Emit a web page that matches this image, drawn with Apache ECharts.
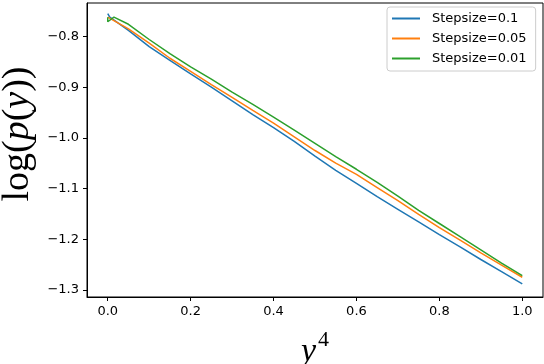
<!DOCTYPE html>
<html>
<head>
<meta charset="utf-8">
<script src="https://cdn.jsdelivr.net/npm/echarts@6/dist/echarts.min.js"></script>
<style>
  html, body { margin: 0; padding: 0; background: #fff; }
  #chart { width: 544px; height: 364px; }
</style>
</head>
<body>
<div id="chart"></div>
<script>
// y^4 positions and log(p(y)) values
const xs = [0, 0.05, 0.1, 0.15, 0.2, 0.25, 0.3, 0.35, 0.4, 0.45, 0.5,
  0.55, 0.6, 0.65, 0.7, 0.75, 0.8, 0.85, 0.9, 0.95, 1.0]
const step01 = [-0.788, -0.820, -0.847, -0.874, -0.900, -0.927, -0.954, -0.980, -1.007,
  -1.036, -1.064, -1.090, -1.116, -1.141, -1.166, -1.191, -1.215, -1.240, -1.264, -1.288]
const step005 = [-0.785, -0.813, -0.843, -0.869, -0.895, -0.920, -0.946, -0.971, -0.998,
  -1.025, -1.050, -1.072, -1.098, -1.124, -1.151, -1.177, -1.202, -1.227, -1.251, -1.275]
const step001 = [-0.776, -0.806, -0.834, -0.860, -0.884, -0.910, -0.934, -0.959, -0.985,
  -1.011, -1.037, -1.062, -1.088, -1.115, -1.143, -1.169, -1.195, -1.221, -1.247, -1.272]
// the first few points near y^4 = 0
const start01 = [[0, -0.755], [0.005, -0.762]]
const start005 = [[0, -0.762]]
const start001 = [[0, -0.762], [0, -0.771], [0.015, -0.762]]
const names = ["Stepsize=0.1", "Stepsize=0.05", "Stepsize=0.01"]
const xTicks = [0, 0.2, 0.4, 0.6, 0.8, 1.0]
const yTicks = [-0.8, -0.9, -1.0, -1.1, -1.2, -1.3]

const pts = (head, ys) => head.concat(ys.map((v, i) => [xs[i + 1], v]))
const minus = (v) => v.toFixed(1).replace("-", "\u2212")

const chart = echarts.init(document.getElementById("chart"), null, { renderer: "canvas" })
const tickFont = { fontFamily: "DejaVu Sans", fontSize: 13, color: "#000" }

let option = {
  animation: false,
  color: ["#1f77b4", "#ff7f0e", "#2ca02c"],
  grid: {
    left: 87, right: 1, top: 3, bottom: 67,
    containLabel: false,
    outerBoundsMode: "none",
    show: true, borderColor: "#000", borderWidth: 1
  },
  legend: {
    orient: "vertical",
    left: 387, top: 7,
    padding: [5, 9, 6, 5],
    itemGap: 7,
    itemWidth: 28, itemHeight: 2,
    icon: "rect",
    borderColor: "#ccc", borderWidth: 1, borderRadius: 3,
    textStyle: { fontFamily: "DejaVu Sans", fontSize: 13, color: "#000", padding: [0, 0, 0, 7] },
    data: names
  },
  xAxis: {
    type: "value",
    min: -0.05, max: 1.05,
    splitLine: { show: false },
    axisLine: { show: true, onZero: false, lineStyle: { color: "#000" } },
    axisTick: { show: true, length: 4, lineStyle: { color: "#000" }, customValues: xTicks },
    axisLabel: Object.assign({ margin: 8, customValues: xTicks, formatter: minus }, tickFont),
    name: "{y|y}{s|4}",
    nameLocation: "middle",
    nameGap: 26,
    nameTextStyle: {
      rich: {
        y: { fontFamily: "Liberation Serif", fontStyle: "italic", fontSize: 34, color: "#000", height: 34, verticalAlign: "bottom" },
        s: { fontFamily: "Liberation Serif", fontSize: 22, color: "#000", height: 34, verticalAlign: "top", padding: [0, 0, 12, 2] }
      }
    }
  },
  yAxis: {
    type: "value",
    min: -1.314, max: -0.734,
    splitLine: { show: false },
    axisLine: { show: true, onZero: false, lineStyle: { color: "#000" } },
    axisTick: { show: true, length: 4, lineStyle: { color: "#000" }, customValues: yTicks },
    axisLabel: Object.assign({ margin: 8, customValues: yTicks, formatter: minus }, tickFont),
    name: "{r|log(}{i|p}{r|(}{i|y}{r|))}",
    nameLocation: "middle",
    nameRotate: 90,
    nameGap: 48,
    nameTextStyle: {
      padding: [0, 0, 0, 32],
      rich: {
        r: { fontFamily: "Liberation Serif", fontSize: 38, color: "#000" },
        i: { fontFamily: "Liberation Serif", fontStyle: "italic", fontSize: 38, color: "#000" }
      }
    }
  },
  series: [
    { name: names[0], type: "line", showSymbol: false, symbol: "none", lineStyle: { width: 1.5 }, data: pts(start01, step01) },
    { name: names[1], type: "line", showSymbol: false, symbol: "none", lineStyle: { width: 1.5 }, data: pts(start005, step005) },
    { name: names[2], type: "line", showSymbol: false, symbol: "none", lineStyle: { width: 1.5 }, data: pts(start001, step001) }
  ]
}
chart.setOption(option)
</script>
</body>
</html>
